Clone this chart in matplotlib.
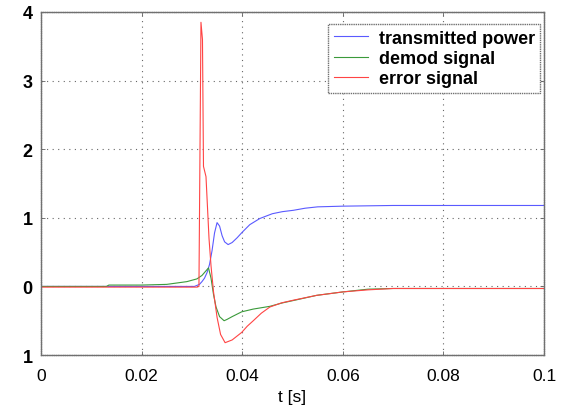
import matplotlib
matplotlib.use("Agg")
import matplotlib.pyplot as plt

# transmitted power
t_power = [0, 0.028, 0.0305, 0.0315, 0.032, 0.0325, 0.033, 0.0335, 0.034,
           0.0345, 0.035, 0.0355, 0.036, 0.0365, 0.0372, 0.038, 0.039, 0.040,
           0.0415, 0.0435, 0.046, 0.048, 0.0502, 0.0525, 0.055, 0.060, 0.070,
           0.080, 0.100]
power = [0, 0, 0.0, 0.03, 0.07, 0.12, 0.2, 0.32, 0.52,
         0.78, 0.93, 0.88, 0.74, 0.65, 0.61, 0.64, 0.71, 0.79,
         0.90, 0.99, 1.06, 1.09, 1.11, 1.14, 1.16, 1.17, 1.18,
         1.18, 1.18]

# demod signal
t_demod = [0, 0.013, 0.0135, 0.020, 0.025, 0.027, 0.029, 0.031, 0.032,
           0.0333, 0.0338, 0.0343, 0.0348, 0.0355, 0.0364, 0.037, 0.038,
           0.0399, 0.0422, 0.0455, 0.048, 0.0502, 0.0548, 0.060, 0.065,
           0.070, 0.100]
demod = [0, 0, 0.02, 0.02, 0.03, 0.05, 0.07, 0.11, 0.16,
         0.27, 0.12, -0.12, -0.30, -0.44, -0.50, -0.48, -0.44,
         -0.37, -0.33, -0.29, -0.24, -0.205, -0.13, -0.08, -0.04,
         -0.03, -0.03]

# error signal
t_error = [0, 0.031, 0.0314, 0.0318, 0.0321, 0.0323, 0.0328, 0.0331,
           0.0334, 0.0338, 0.0343, 0.035, 0.0357, 0.0366, 0.038, 0.0399,
           0.041, 0.0422, 0.0438, 0.0455, 0.0478, 0.0502, 0.0548, 0.060,
           0.065, 0.070, 0.100]
error = [-0.01, -0.01, 0.0, 3.85, 3.6, 1.75, 1.6, 1.15,
         0.7, 0.3, -0.08, -0.45, -0.70, -0.82, -0.78, -0.67,
         -0.58, -0.50, -0.39, -0.30, -0.24, -0.20, -0.13, -0.08,
         -0.05, -0.03, -0.03]

x_ticks = [0, 0.02, 0.04, 0.06, 0.08, 0.1]
x_labels = ["0", "0.02", "0.04", "0.06", "0.08", "0.1"]
y_ticks = [-1, 0, 1, 2, 3, 4]
y_labels = ["1", "0", "1", "2", "3", "4"]

plt.rcParams["font.family"] = ["Liberation Sans", "DejaVu Sans"]
fig = plt.figure(figsize=(5.61, 4.14), dpi=100)
ax = fig.add_axes([0.0731, 0.140, 0.8966, 0.8286])
ax.plot(t_power, power, color="#5a5aff", lw=0.8, label="transmitted power")
ax.plot(t_demod, demod, color="#3a9a3a", lw=0.8, label="demod signal")
ax.plot(t_error, error, color="#ff4444", lw=0.8, label="error signal")

ax.set_xlim(0, 0.1)
ax.set_ylim(-1, 4)
ax.set_xticks(x_ticks)
ax.set_xticklabels(x_labels, fontsize=12.5)
ax.set_yticks(y_ticks)
ax.set_yticklabels(y_labels, fontsize=13, fontweight="bold")
ax.set_xlabel("t [s]", fontsize=12.5, labelpad=5)
ax.tick_params(direction="in", length=3, width=0.6, color="#606060",
               top=True, right=True)
ax.tick_params(axis="x", pad=9)
ax.tick_params(axis="y", pad=6)
ax.grid(ls=(0, (1, 4)), color="#666666", lw=0.8)
for spine in ax.spines.values():
    spine.set_linestyle((0, (1, 0.6)))
    spine.set_color("#707070")
    spine.set_linewidth(1.0)

leg = ax.legend(loc="upper right", bbox_to_anchor=(1.0, 0.975),
                prop={"size": 13, "weight": "bold"}, fancybox=False,
                framealpha=1, handlelength=1.9, handletextpad=0.6,
                borderpad=0.3, labelspacing=0.18, borderaxespad=0.2,
                edgecolor="#707070")
leg.get_frame().set_linestyle((0, (1, 0.6)))
leg.get_frame().set_linewidth(1.0)

fig.savefig("out.png", dpi=100)
